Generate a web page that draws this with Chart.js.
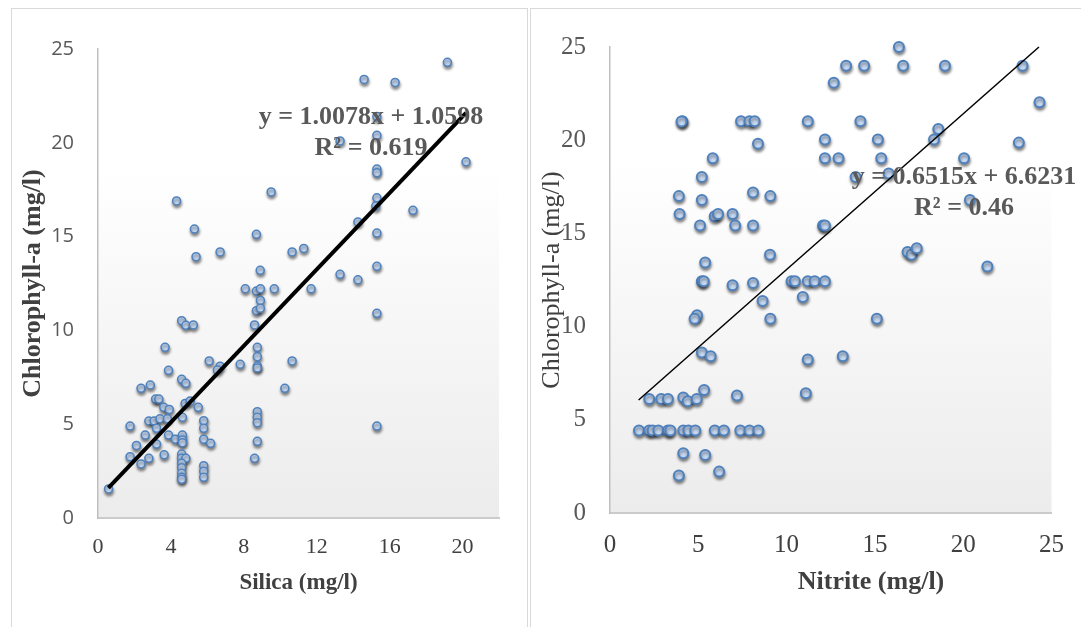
<!DOCTYPE html>
<html>
<head>
<meta charset="utf-8">
<script src="https://cdn.jsdelivr.net/npm/chart.js@4.4.1/dist/chart.umd.min.js"></script>
<style>
  body { margin: 0; background: #fff; width: 1081px; height: 627px; overflow: hidden; position: relative; }
  .frame { position: absolute; border: 1px solid #d9d9d9; border-bottom: none; }
  .box { position: absolute; }
</style>
</head>
<body>
<div class="frame" style="left:11px; top:8px; width:515px; height:640px;"></div>
<div class="frame" style="left:530px; top:8px; width:570px; height:640px;"></div>
<div class="box" style="left:12px; top:8px; width:515px; height:619px;"><canvas id="silicaChart"></canvas></div>
<div class="box" style="left:531px; top:8px; width:550px; height:619px;"><canvas id="nitriteChart"></canvas></div>
<script>
// Silica vs Chlorophyll-a (left chart)
const silicaX = [19.17, 14.6, 16.3, 15.3, 13.28, 15.3, 20.19, 15.3, 15.3, 4.31, 9.5, 15.3, 15.24, 17.28, 14.26, 15.3,
  5.29, 8.69, 5.38, 6.7, 10.65, 11.29, 8.9, 15.3, 13.28, 14.26, 8.08, 8.69, 8.91, 9.67, 11.69, 8.91, 8.69, 8.91, 15.3,
  4.59, 4.82, 5.23, 8.59, 3.68, 8.74, 8.74, 8.74, 8.74, 6.1, 6.7, 6.55, 7.8, 10.65, 3.87, 10.25, 4.59, 4.82, 2.36, 2.87,
  3.16, 3.34, 3.61, 3.91, 4.78, 5.06, 5.5, 8.74, 8.74, 8.74, 5.8, 5.8, 5.8, 6.18, 8.74, 8.59, 15.3, 1.76, 2.79, 3.08,
  3.4, 3.81, 4.63, 3.21, 2.59, 3.87, 4.25, 4.63, 4.63, 4.63, 2.11, 3.21, 1.76, 2.79, 3.63, 2.36, 4.59, 4.59, 4.82, 4.59,
  4.59, 4.59, 4.59, 4.59, 5.8, 5.8, 5.8, 0.58];
const silicaChl = [24.29, 23.38, 23.22, 21.4, 20.1, 20.4, 18.99, 18.6, 18.4, 16.9, 17.38, 17.07, 16.63, 16.4, 15.78, 15.19,
  15.4, 15.12, 13.93, 14.18, 14.18, 14.37, 13.2, 13.42, 12.99, 12.7, 12.22, 12.1, 12.22, 12.22, 12.22, 11.6, 11.05, 11.18, 10.91,
  10.52, 10.27, 10.29, 10.29, 9.1, 9.1, 8.6, 8.1, 8.0, 8.37, 8.09, 7.89, 8.19, 8.37, 7.87, 6.91, 7.39, 7.18, 6.91, 7.09,
  6.34, 6.34, 5.9, 5.79, 6.11, 6.24, 5.9, 5.67, 5.37, 5.08, 5.19, 4.78, 4.2, 3.98, 4.09, 3.18, 4.9, 4.9, 5.17, 5.17,
  5.29, 5.29, 5.37, 4.78, 4.42, 4.42, 4.2, 4.42, 4.16, 4.01, 3.87, 3.94, 3.27, 3.18, 3.37, 2.88, 3.41, 3.18, 3.18, 2.92,
  2.68, 2.38, 2.17, 2.06, 2.79, 2.49, 2.17, 1.55];
const silicaFitX = [0.57, 20.19];
const silicaFitY = [1.6, 21.6];
const silicaTicks = [0, 4, 8, 12, 16, 20];

// Nitrite vs Chlorophyll-a (right chart)
const nitriteX = [16.36, 13.37, 14.39, 16.6, 18.97, 23.36, 12.67, 24.32, 4.1, 4.05, 7.42, 7.9, 8.19, 11.2, 14.18, 18.59,
  12.17, 15.17, 18.35, 23.15, 8.38, 5.82, 12.17, 12.94, 15.36, 20.05, 15.78, 13.91, 5.2, 3.9, 5.2, 8.1, 9.08, 20.38,
  3.94, 5.93, 6.12, 6.94, 7.09, 8.1, 5.1, 12.06, 12.17, 16.85, 17.08, 17.37, 9.06, 5.39, 21.37, 5.2, 5.31, 6.94, 8.1,
  10.28, 10.47, 11.2, 11.59, 12.17, 10.92, 8.64, 4.93, 4.79, 9.08, 15.11, 5.2, 5.7, 11.2, 13.18, 5.33, 7.19, 11.09,
  2.22, 2.9, 3.28, 4.15, 4.4, 4.91, 1.64, 2.22, 2.41, 2.74, 3.28, 3.42, 4.15, 4.44, 4.83, 5.93, 6.45, 7.38, 7.9, 8.4,
  4.15, 5.39, 3.9, 6.18];
const nitriteChl = [25.0, 24.0, 24.0, 24.0, 24.0, 24.0, 23.08, 22.03, 21.02, 21.0, 21.02, 21.02, 21.02, 21.02, 21.02, 20.6,
  20.04, 20.04, 20.04, 19.87, 19.81, 19.03, 19.03, 19.03, 19.03, 19.03, 18.21, 18.03, 18.03, 17.0, 16.79, 17.2, 17.0, 16.79,
  16.04, 15.92, 16.04, 16.04, 15.42, 15.42, 15.42, 15.42, 15.42, 14.0, 13.86, 14.21, 13.86, 13.44, 13.23, 12.43, 12.43, 12.22, 12.34,
  12.43, 12.43, 12.43, 12.43, 12.43, 11.59, 11.38, 10.61, 10.42, 10.42, 10.42, 8.61, 8.41, 8.24, 8.41, 6.6, 6.3, 6.42,
  6.11, 6.11, 6.11, 6.2, 5.99, 6.11, 4.42, 4.42, 4.42, 4.42, 4.42, 4.42, 4.42, 4.42, 4.42, 4.42, 4.42, 4.42, 4.42, 4.42,
  3.21, 3.11, 2.01, 2.22];
const nitriteFitX = [1.62, 24.29];
const nitriteFitY = [6.06, 25.0];

const toPoints = (xs, ys) => xs.map((x, i) => ({ x: x, y: ys[i] }));

// Plot area fill: white at the top fading to light grey
const plotBackground = {
    id: 'plotBackground',
    beforeDraw(chart) {
        const { ctx, chartArea: a } = chart;
        const g = ctx.createLinearGradient(0, a.top, 0, a.bottom);
        g.addColorStop(0, '#ffffff');
        g.addColorStop(0.25, '#ffffff');
        g.addColorStop(1, '#ececec');
        ctx.save();
        ctx.fillStyle = g;
        ctx.fillRect(a.left, a.top, a.right - a.left, a.bottom - a.top);
        ctx.restore();
    }
};

// Soft drop shadow under the markers
const markerShadow = {
    id: 'markerShadow',
    beforeDatasetDraw(chart, args) {
        if (args.meta.type !== 'scatter') return;
        const ctx = chart.ctx;
        ctx.save();
        ctx.shadowColor = 'rgba(0,0,0,0.45)';
        ctx.shadowBlur = 3;
        ctx.shadowOffsetX = 0.5;
        ctx.shadowOffsetY = 2.5;
    },
    afterDatasetDraw(chart, args) {
        if (args.meta.type !== 'scatter') return;
        chart.ctx.restore();
    }
};

// Free text (equation, R², extra titles) at canvas positions
const freeText = {
    id: 'freeText',
    afterDatasetsDraw(chart, args, opts) {
        const ctx = chart.ctx;
        ctx.save();
        opts.items.forEach(t => {
            ctx.font = t.font;
            ctx.fillStyle = t.color;
            ctx.textAlign = 'center';
            ctx.textBaseline = 'middle';
            ctx.fillText(t.text, t.x, t.y);
        });
        ctx.restore();
    }
};

document.addEventListener('DOMContentLoaded', () => {
    const markerFill = '#c6d9f3';
    const markerLine = '#4f81bd';

    // Left chart: Silica
    new Chart(document.getElementById('silicaChart'), {
        type: 'scatter',
        data: {
            datasets: [{
                type: 'line',
                data: toPoints(silicaFitX, silicaFitY),
                borderColor: '#000',
                borderWidth: 4,
                pointRadius: 0,
                fill: false
            }, {
                data: toPoints(silicaX, silicaChl),
                backgroundColor: markerFill,
                borderColor: markerLine,
                borderWidth: 1.5,
                pointRadius: 4
            }]
        },
        options: {
            responsive: true,
            maintainAspectRatio: false,
            animation: false,
            clip: false,
            layout: { padding: { top: 41, right: 28, left: 0, bottom: 0 } },
            plugins: {
                legend: { display: false },
                tooltip: { enabled: false },
                freeText: {
                    items: [
                        { text: 'y = 1.0078x + 1.0598', x: 359, y: 109, font: 'bold 26px "Liberation Serif"', color: '#595959' },
                        { text: 'R² = 0.619', x: 359, y: 140, font: 'bold 26px "Liberation Serif"', color: '#595959' }
                    ]
                }
            },
            scales: {
                x: {
                    type: 'linear',
                    min: 0,
                    max: 22,
                    afterBuildTicks: s => { s.ticks = silicaTicks.map(v => ({ value: v })); },
                    afterFit: s => { s.height = 109; },
                    grid: { display: false, drawTicks: false },
                    border: { color: '#cbcbcb', width: 2 },
                    ticks: { font: { family: 'Liberation Serif', size: 22 }, color: '#404040', padding: 16 },
                    title: {
                        display: true,
                        text: 'Silica (mg/l)',
                        font: { family: 'Liberation Serif', size: 23, weight: 'bold' },
                        color: '#404040',
                        padding: { top: 0, bottom: 30 }
                    }
                },
                y: {
                    min: 0,
                    max: 25,
                    afterFit: s => { s.width = 86; },
                    grid: { display: false, drawTicks: false },
                    border: { color: '#bfbfbf', width: 1.5 },
                    ticks: { stepSize: 5, font: { family: 'Open Sans', size: 20 }, color: '#595959', padding: 24 },
                    title: {
                        display: true,
                        text: 'Chlorophyll-a (mg/l)',
                        font: { family: 'Liberation Serif', size: 26, weight: 'bold' },
                        color: '#404040',
                        padding: { top: 6, bottom: 0 }
                    }
                }
            }
        },
        plugins: [plotBackground, markerShadow, freeText]
    });

    // Right chart: Nitrite
    new Chart(document.getElementById('nitriteChart'), {
        type: 'scatter',
        data: {
            datasets: [{
                type: 'line',
                data: toPoints(nitriteFitX, nitriteFitY),
                borderColor: '#000',
                borderWidth: 1.5,
                pointRadius: 0,
                fill: false
            }, {
                data: toPoints(nitriteX, nitriteChl),
                backgroundColor: markerFill,
                borderColor: markerLine,
                borderWidth: 2,
                pointRadius: 5
            }]
        },
        options: {
            responsive: true,
            maintainAspectRatio: false,
            animation: false,
            clip: false,
            layout: { padding: { top: 28, right: 17, left: 0, bottom: 0 } },
            plugins: {
                legend: { display: false },
                tooltip: { enabled: false },
                freeText: {
                    items: [
                        { text: 'y = 0.6515x + 6.6231', x: 433, y: 169, font: 'bold 26px "Liberation Serif"', color: '#595959' },
                        { text: 'R² = 0.46', x: 433, y: 200, font: 'bold 26px "Liberation Serif"', color: '#595959' },
                        { text: 'Nitrite (mg/l)', x: 340, y: 574, font: 'bold 26px "Liberation Serif"', color: '#404040' }
                    ]
                }
            },
            scales: {
                x: {
                    type: 'linear',
                    min: 0,
                    max: 25,
                    afterFit: s => { s.height = 114; },
                    grid: { display: false, drawTicks: false },
                    border: { color: '#cbcbcb', width: 2 },
                    ticks: { stepSize: 5, font: { family: 'Liberation Serif', size: 25 }, color: '#404040', padding: 17 }
                },
                y: {
                    min: 0,
                    max: 25,
                    afterFit: s => { s.width = 79; },
                    grid: { display: false, drawTicks: false },
                    border: { color: '#bfbfbf', width: 1.5 },
                    ticks: { stepSize: 5, font: { family: 'Liberation Serif', size: 25 }, color: '#595959', padding: 24 },
                    title: {
                        display: true,
                        text: 'Chlorophyll-a (mg/l)',
                        font: { family: 'Liberation Serif', size: 26 },
                        color: '#404040',
                        padding: { top: 6, bottom: 0 }
                    }
                }
            }
        },
        plugins: [plotBackground, markerShadow, freeText]
    });
});
</script>
</body>
</html>
